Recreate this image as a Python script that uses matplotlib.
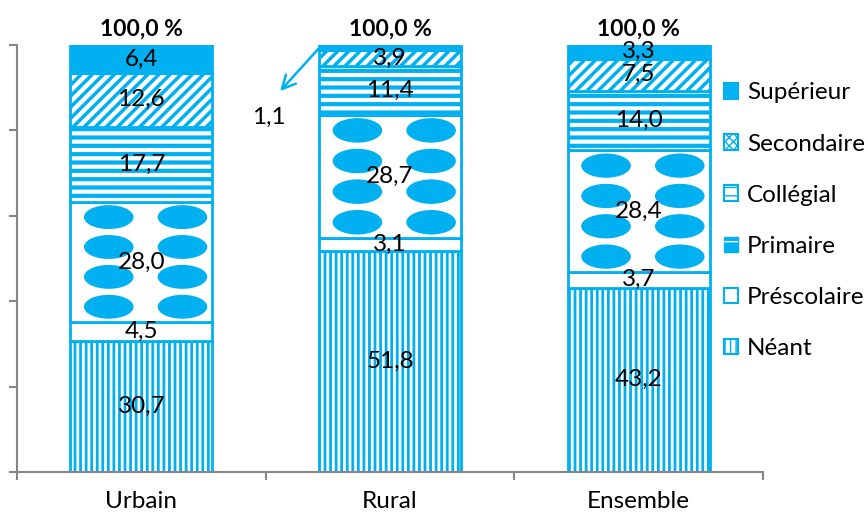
import matplotlib
matplotlib.use("Agg")
import matplotlib.pyplot as plt
from matplotlib.patches import Ellipse, Rectangle
from matplotlib.legend_handler import HandlerTuple
import numpy as np

plt.rcParams['font.family'] = ['Lato', 'DejaVu Sans']

categories = ["Urbain", "Rural", "Ensemble"]
levels = ["Néant", "Préscolaire", "Primaire", "Collégial", "Secondaire", "Supérieur"]
neant = [30.7, 51.8, 43.2]
prescolaire = [4.5, 3.1, 3.7]
primaire = [28.0, 28.7, 28.4]
collegial = [17.7, 11.4, 14.0]
secondaire = [12.6, 3.9, 7.5]
superieur = [6.4, 1.1, 3.3]
totals = [100.0, 100.0, 100.0]
series = [neant, prescolaire, primaire, collegial, secondaire, superieur]

BLUE = "#00B0F0"
GREY = "#868686"
FS = 17.5
styles = {
    "Néant": dict(facecolor="white", hatch="|||", hlw=2.0),
    "Préscolaire": dict(facecolor="white", hatch=None, hlw=1.0),
    "Primaire": dict(facecolor="white", hatch=None, hlw=1.0),
    "Collégial": dict(facecolor="white", hatch="--", hlw=3.0),
    "Secondaire": dict(facecolor="white", hatch="///", hlw=2.5),
    "Supérieur": dict(facecolor=BLUE, hatch=None, hlw=1.0),
}

def fmt(v):
    return f"{v:.1f}".replace(".", ",")

fig = plt.figure(figsize=(8.68, 5.24), dpi=100)
ax = fig.add_axes([0.0196, 0.0992, 0.8594, 0.8149])

x = np.arange(len(categories))
width = 0.57
bottom = np.zeros(len(categories))
containers = {}
for name, vals in zip(levels, series):
    st = styles[name]
    with plt.rc_context({'hatch.linewidth': st['hlw'], 'hatch.color': BLUE}):
        bc = ax.bar(x, vals, width, bottom=bottom, facecolor=st['facecolor'],
                    edgecolor=BLUE, linewidth=2, hatch=st['hatch'], zorder=2)
    containers[name] = bc
    bottom = bottom + np.array(vals)

# Primaire: pattern of filled ellipses inside each segment
for rect in containers["Primaire"]:
    x0, y0 = rect.get_x(), rect.get_y()
    w, h = rect.get_width(), rect.get_height()
    for fx in (0.27, 0.79):
        for i in range(4):
            cy = y0 + h * (1 - (i + 0.5) / 4)
            e = Ellipse((x0 + fx * w, cy), 0.35 * w, 0.2 * h, facecolor=BLUE,
                        edgecolor="none", zorder=3)
            e.set_clip_path(rect)
            ax.add_patch(e)

# data labels
for name, vals in zip(levels, series):
    labels = [fmt(v) for v in vals]
    if name == "Supérieur":
        labels[1] = ""
    ax.bar_label(containers[name], labels=labels, label_type="center",
                 fontsize=FS, color="black", zorder=5)

# moved label for Rural Supérieur
r = containers["Supérieur"][1]
ax.annotate("", xy=(0.558, 89.2), xytext=(r.get_x(), 99.3),
            arrowprops=dict(arrowstyle="->", color=BLUE, lw=1.8,
                            mutation_scale=24, shrinkA=0, shrinkB=0))
ax.text(0.514, 83.1, fmt(superieur[1]), ha="center", va="center", fontsize=FS)

# totals
for xi, t in zip(x, totals):
    ax.annotate(fmt(t) + " %", (xi, t), xytext=(0, 4), textcoords="offset points",
                ha="center", va="bottom", fontsize=16.5, fontweight="bold")

ax.set_xlim(-0.5, 2.5)
ax.set_ylim(0, 100)
ax.set_yticks(np.arange(0, 101, 20))
ax.set_yticklabels([])
ax.set_xticks(x)
ax.set_xticklabels(categories, fontsize=FS)
ax.set_xticks([-0.5, 0.5, 1.5, 2.5], minor=True)
ax.tick_params(axis="x", which="major", length=0, pad=14)
ax.tick_params(axis="x", which="minor", length=6, width=1.5, color=GREY, direction="out")
ax.tick_params(axis="y", length=6, width=1.5, color=GREY, direction="out")
for s in ("top", "right"):
    ax.spines[s].set_visible(False)
for s in ("left", "bottom"):
    ax.spines[s].set_color(GREY)
    ax.spines[s].set_linewidth(1.5)

# legend
handles = []
for name in reversed(levels):
    st = styles[name]
    with plt.rc_context({'hatch.linewidth': 1.2, 'hatch.color': BLUE}):
        if name == "Primaire":
            base = Rectangle((0, 0), 1, 1, facecolor=BLUE, edgecolor=BLUE, linewidth=1)
            over = Rectangle((0, 0), 1, 1, facecolor="none", edgecolor="white",
                             linewidth=0, hatch="-")
            h = (base, over)
        elif name == "Secondaire":
            h = Rectangle((0, 0), 1, 1, facecolor="white", edgecolor=BLUE,
                          linewidth=1.5, hatch="xxxx")
        else:
            h = Rectangle((0, 0), 1, 1, facecolor=st['facecolor'], edgecolor=BLUE,
                          linewidth=1.5, hatch=st['hatch'])
    handles.append(h)
fig.legend(handles, list(reversed(levels)), loc="upper left",
           bbox_to_anchor=(0.820, 0.866), frameon=False, fontsize=FS,
           handlelength=0.6, handleheight=0.6, handletextpad=0.35,
           labelspacing=1.24, borderpad=0,
           handler_map={tuple: HandlerTuple(ndivide=1, pad=0)})

fig.savefig("out.png", dpi=100)
